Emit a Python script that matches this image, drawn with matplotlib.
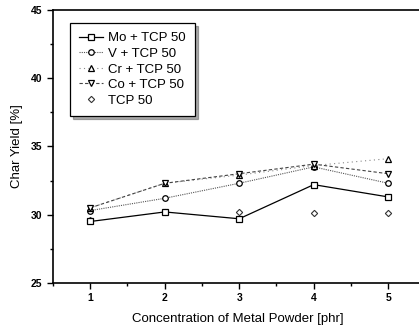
import matplotlib
matplotlib.use("Agg")
import matplotlib.pyplot as plt
from matplotlib.ticker import MultipleLocator

plt.rcParams['font.family'] = ['Liberation Sans', 'DejaVu Sans']

# concentration of metal powder [phr]
conc = [1, 2, 3, 4, 5]

# char yield [%]
mo_tcp = [29.5, 30.2, 29.7, 32.2, 31.3]
v_tcp = [30.3, 31.2, 32.3, 33.5, 32.3]
cr_tcp = [30.5, 32.3, 32.9, 33.6, 34.1]
co_tcp = [30.5, 32.3, 33.0, 33.7, 33.0]
tcp50 = [29.6, 30.2, 30.2, 30.1, 30.1]

fig = plt.figure(figsize=(4.19, 3.29), dpi=100)
ax = fig.add_axes([0.1265, 0.14, 0.88, 0.83])

ms = 4
ax.plot(conc, mo_tcp, color='black', ls='-', lw=0.9, marker='s', ms=ms,
        mfc='white', mec='black', mew=0.9, label='Mo + TCP 50', zorder=3)
ax.plot(conc, v_tcp, color='#555555', ls=(0, (1, 1)), lw=0.8, marker='o', ms=ms,
        mfc='white', mec='black', mew=0.9, label='V + TCP 50', zorder=3)
ax.plot(conc, cr_tcp, color='#888888', ls=(0, (1, 3)), lw=0.8, marker='^', ms=ms,
        mfc='white', mec='black', mew=0.9, label='Cr + TCP 50', zorder=3)
ax.plot(conc, co_tcp, color='#444444', ls=(0, (3, 2)), lw=0.8, marker='v', ms=ms,
        mfc='white', mec='black', mew=0.9, label='Co + TCP 50', zorder=3)
ax.plot(conc, tcp50, ls='none', marker='D', ms=3.2,
        mfc='white', mec='#333333', mew=0.8, label='TCP 50', zorder=2)

ax.set_xlim(0.5, 5.45)
ax.set_ylim(25, 45)
ax.xaxis.set_major_locator(MultipleLocator(1))
ax.xaxis.set_minor_locator(MultipleLocator(0.5))
ax.yaxis.set_major_locator(MultipleLocator(5))
ax.yaxis.set_minor_locator(MultipleLocator(2.5))
ax.tick_params(which='both', direction='out', width=1, labelsize=7.5)
ax.tick_params(which='major', length=4)
ax.tick_params(which='minor', length=2)
for lab in ax.get_xticklabels() + ax.get_yticklabels():
    lab.set_fontweight('bold')

ax.spines['right'].set_visible(False)
for s in ['left', 'bottom', 'top']:
    ax.spines[s].set_linewidth(1.2)

ax.set_xlabel('Concentration of Metal Powder [phr]', fontsize=9.5, labelpad=7)
ax.set_ylabel('Char Yield [%]', fontsize=9.5, labelpad=6)

leg = ax.legend(loc='upper left', bbox_to_anchor=(0.046, 0.952), fontsize=9.5,
                frameon=True, fancybox=False, shadow={'ox': 2, 'oy': -2, 'color': '0.35'},
                edgecolor='black', handlelength=1.8, borderpad=0.7,
                labelspacing=0.25, handletextpad=0.4, borderaxespad=0)
leg.get_frame().set_linewidth(0.9)

fig.savefig('out.png', dpi=100)
